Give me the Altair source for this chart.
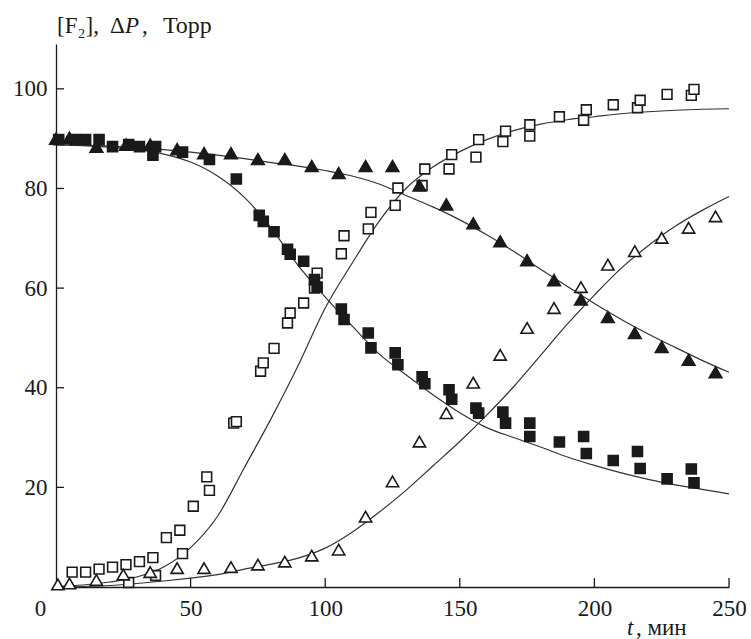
import altair as alt
import pandas as pd

# ---------------- measured data ----------------
# [F2] – filled squares
fsq_t = [1, 7, 11, 16, 21, 27, 31, 37, 36, 47, 57, 67, 75.5, 77, 81, 86, 87, 92, 96, 97,
         106, 107, 116, 117, 126, 127, 136, 137, 146, 147, 156, 157, 166, 167, 176, 176,
         187, 196, 197, 207, 216, 217, 227, 236, 237]
fsq_v = [89.8, 89.8, 89.8, 89.8, 88.4, 88.8, 88.4, 88.4, 86.7, 87.3, 85.8, 81.9, 74.6, 73.4,
         71.3, 67.8, 66.8, 65.4, 61.7, 60.2, 55.8, 53.7, 51.0, 48.0, 47.0, 44.6, 42.2, 40.8,
         39.6, 37.7, 35.9, 34.9, 35.1, 32.9, 32.9, 30.2, 29.1, 30.2, 26.8, 25.4, 27.2, 23.8,
         21.7, 23.7, 20.9]

# [F2] – filled triangles
ftr_t = [0, 5, 15, 26, 35, 45, 55, 65, 75, 85, 95, 105, 115, 125, 135, 145, 155, 165, 175,
         185, 195, 205, 215, 225, 235, 245]
ftr_v = [90.0, 90.2, 88.4, 88.8, 88.8, 87.9, 87.1, 87.1, 85.9, 85.9, 84.5, 83.1, 84.5, 84.5,
         80.6, 76.8, 73.0, 69.4, 65.6, 61.6, 57.7, 54.2, 51.0, 48.2, 45.6, 43.1]

# dP – open squares
osq_t = [27, 6, 11, 16, 21, 26, 31, 36, 37, 41, 46, 47, 51, 56, 57, 66, 67, 76, 77, 81, 86,
         87, 92, 96, 97, 106, 107, 116, 117, 126, 127, 136, 137, 146, 147, 156, 157, 166,
         167, 176, 176, 187, 196, 197, 207, 216, 217, 227, 236, 237]
osq_v = [0.9, 3.0, 3.0, 3.6, 4.0, 4.5, 5.1, 5.9, 2.3, 9.9, 11.4, 6.7, 16.2, 22.1, 19.4, 32.9,
         33.2, 43.3, 45.0, 47.9, 53.0, 55.0, 57.0, 60.0, 63.0, 66.9, 70.5, 71.9, 75.2, 76.6,
         80.1, 80.6, 83.9, 83.9, 86.8, 86.3, 89.8, 89.4, 91.5, 90.5, 92.8, 94.4, 93.7, 95.8,
         96.8, 96.2, 97.7, 98.9, 98.7, 99.9]

# dP – open triangles
otr_t = [0.7, 5, 15, 25, 35, 45, 55, 65, 75, 85, 95, 105, 115, 125, 135, 145, 155, 165,
         175, 185, 195, 205, 215, 225, 235, 245]
otr_v = [0.5, 0.7, 1.4, 2.5, 3.0, 3.8, 3.8, 4.0, 4.5, 5.1, 6.3, 7.5, 14.1, 21.2, 29.2, 34.9,
         41.0, 46.6, 52.0, 56.0, 60.2, 64.7, 67.4, 70.1, 72.1, 74.4]

# fitted curves
curve_t = [0, 10, 20, 30, 40, 50, 60, 70, 80, 90, 100, 110, 120, 130, 140, 150, 160, 170,
           180, 190, 200, 210, 220, 230, 240, 250]
fit_fsq = [88.8, 88.6, 88.3, 87.8, 86.9, 85.3, 82.5, 78.2, 72.0, 64.5, 58.2, 52.4, 46.8,
           42.6, 38.6, 35.0, 32.0, 30.0, 28.1, 26.1, 24.4, 22.9, 21.6, 20.5, 19.6, 18.7]
fit_ftr = [88.8, 88.7, 88.5, 88.2, 87.8, 87.3, 86.7, 86.0, 85.2, 84.5, 83.6, 82.5, 80.9,
           78.6, 76.3, 73.7, 70.7, 67.4, 63.8, 60.3, 56.9, 53.7, 50.8, 48.1, 45.5, 43.1]
fit_osq = [0.1, 0.4, 1.0, 2.0, 4.0, 7.9, 14.2, 24.0, 33.9, 44.5, 56.0, 65.0, 73.4, 80.0,
           84.3, 87.4, 89.8, 91.6, 92.9, 93.8, 94.4, 95.0, 95.4, 95.7, 95.9, 96.0]
fit_otr = [0.0, 0.1, 0.3, 0.7, 1.2, 1.8, 2.5, 3.6, 4.6, 5.8, 7.8, 11.0, 15.0, 19.4, 24.3,
           29.2, 34.5, 40.2, 46.5, 52.8, 58.6, 64.0, 68.5, 72.4, 75.6, 78.4]

x_ticks = [50, 100, 150, 200, 250]
x_labels = [0, 50, 100, 150, 200, 250]
y_ticks = [20, 40, 60, 80, 100]

# ---------------- chart ----------------
W, H = 673, 543
FONT = "Liberation Serif"
INK = "#1a1a1a"

xs = alt.Scale(domain=[0, 250], nice=False, zero=False)
ys = alt.Scale(domain=[0, 109], nice=False, zero=False)

xaxis = alt.Axis(values=x_labels, tickSize=0, labelPadding=10, labelFont=FONT,
                 labelFontSize=23, labelColor=INK, domainColor=INK, domainWidth=1.3,
                 grid=False, title=None, labelFlush=False, labelOverlap=False,
                 labelOffset={"condition": {"test": "datum.value === 0", "value": -16}, "value": 0})
yaxis = alt.Axis(values=y_ticks, tickSize=0, labelPadding=9, labelFont=FONT,
                 labelFontSize=23, labelColor=INK, domainColor=INK, domainWidth=1.3,
                 grid=False, title=None, labelOverlap=False)

curves = pd.DataFrame({
    "t": curve_t * 4,
    "v": fit_fsq + fit_ftr + fit_osq + fit_otr,
    "c": ["a"] * len(curve_t) + ["b"] * len(curve_t) + ["c"] * len(curve_t) + ["d"] * len(curve_t),
})

base_line = alt.Chart(curves).mark_line(color="#333333", strokeWidth=1.2, interpolate="monotone").encode(
    x=alt.X("t:Q", scale=xs, axis=xaxis),
    y=alt.Y("v:Q", scale=ys, axis=yaxis),
    detail="c:N",
)


def pts(t, v, shape, fill, size):
    df = pd.DataFrame({"t": t, "v": v})
    return alt.Chart(df).mark_point(shape=shape, fill=fill, fillOpacity=1, stroke=INK,
                                    strokeWidth=1.6, opacity=1, size=size).encode(
        x=alt.X("t:Q", scale=xs), y=alt.Y("v:Q", scale=ys))


p1 = pts(osq_t, osq_v, "square", "white", 95)
p2 = pts(otr_t, otr_v, "triangle-up", "white", 150)
p3 = pts(fsq_t, fsq_v, "square", INK, 100)
p4 = pts(ftr_t, ftr_v, "triangle-up", INK, 160)

yt = alt.Chart(pd.DataFrame({"v": y_ticks})).mark_rule(color=INK, strokeWidth=1.3).encode(
    y=alt.Y("v:Q", scale=ys), x=alt.value(0), x2=alt.value(8))
xt = alt.Chart(pd.DataFrame({"t": x_ticks})).mark_rule(color=INK, strokeWidth=1.3).encode(
    x=alt.X("t:Q", scale=xs), y=alt.value(H), y2=alt.value(H - 9))

one = pd.DataFrame({"a": [0]})


def txt(s, x, y, italic=False, size=23):
    kw = dict(text=s, font=FONT, fontSize=size, color=INK, align="left", baseline="alphabetic")
    if italic:
        kw["fontStyle"] = "italic"
    return alt.Chart(one).mark_text(**kw).encode(x=alt.value(x), y=alt.value(y))


ytitle = (txt("[F₂],", 1, -11) + txt("Δ", 54, -11) + txt("P", 69, -11, italic=True)
          + txt(",", 86, -11) + txt("Торр", 107, -11, size=24))
xtitle = txt("t", 571, H + 48, italic=True) + txt(", мин", 580, H + 48)

chart = alt.layer(base_line, p1, p2, p3, p4, yt, xt, ytitle, xtitle).properties(
    width=W, height=H,
    autosize=alt.AutoSizeParams(type="none"),
    padding={"left": 56, "top": 44, "right": 22, "bottom": 52},
).configure_view(stroke=None)

chart.save("out.html", embed_options={"renderer": "svg", "actions": False})
